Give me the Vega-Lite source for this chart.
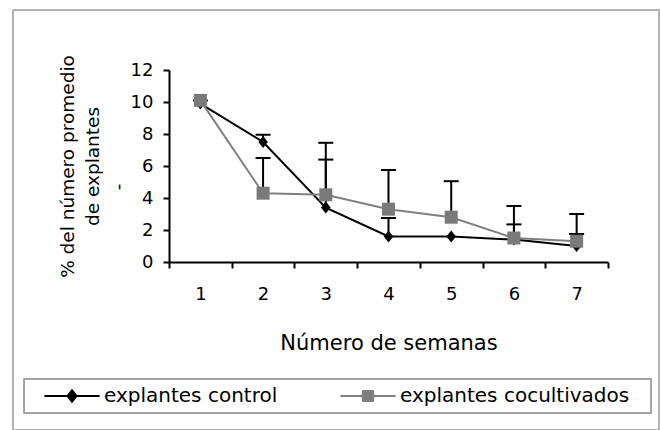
{
  "$schema": "https://vega.github.io/schema/vega-lite/v6.json",
  "width": 646,
  "height": 420,
  "autosize": {"type": "none"},
  "padding": {"left": 13, "top": 10, "right": 1, "bottom": 0},
  "background": "white",
  "config": {
    "font": "DejaVu Sans",
    "view": {"stroke": "#999999", "strokeWidth": 1.5},
    "axis": {"grid": false, "domainColor": "#000000", "domainWidth": 2, "tickColor": "#000000", "tickWidth": 2, "labelColor": "#000000", "titleColor": "#000000", "labelFont": "DejaVu Sans", "titleFont": "DejaVu Sans", "titleFontWeight": "normal", "labelFlush": false}
  },
  "data": {
    "values": [
      {"semana": 1, "serie": "explantes control", "media": 9.9, "superior": 10.1},
      {"semana": 2, "serie": "explantes control", "media": 7.5, "superior": 7.95},
      {"semana": 3, "serie": "explantes control", "media": 3.4, "superior": 6.4},
      {"semana": 4, "serie": "explantes control", "media": 1.6, "superior": 2.75},
      {"semana": 5, "serie": "explantes control", "media": 1.6, "superior": null},
      {"semana": 6, "serie": "explantes control", "media": 1.4, "superior": 2.35},
      {"semana": 7, "serie": "explantes control", "media": 1.0, "superior": 1.75},
      {"semana": 1, "serie": "explantes cocultivados", "media": 10.1, "superior": null},
      {"semana": 2, "serie": "explantes cocultivados", "media": 4.3, "superior": 6.5},
      {"semana": 3, "serie": "explantes cocultivados", "media": 4.2, "superior": 7.45},
      {"semana": 4, "serie": "explantes cocultivados", "media": 3.3, "superior": 5.75},
      {"semana": 5, "serie": "explantes cocultivados", "media": 2.8, "superior": 5.05},
      {"semana": 6, "serie": "explantes cocultivados", "media": 1.5, "superior": 3.5},
      {"semana": 7, "serie": "explantes cocultivados", "media": 1.3, "superior": 3.0}
    ]
  },
  "encoding": {
    "x": {
      "field": "semana", "type": "quantitative",
      "scale": {"domain": [0.5, 7.5], "range": [156, 595], "nice": false, "zero": false},
      "axis": {
        "title": "Número de semanas",
        "values": [0.5, 1, 1.5, 2, 2.5, 3, 3.5, 4, 4.5, 5, 5.5, 6, 6.5, 7, 7.5],
        "offset": -168,
        "tickSize": 6,
        "tickOpacity": {"condition": {"test": "datum.value % 1 === 0", "value": 0}, "value": 1},
        "labelExpr": "datum.value % 1 === 0 ? format(datum.value, 'd') : ''",
        "labelFontSize": 18,
        "labelPadding": 17,
        "labelOverlap": false,
        "titleFontSize": 21,
        "titlePadding": 29
      }
    },
    "y": {
      "field": "media", "type": "quantitative",
      "scale": {"domain": [0, 12], "range": [252, 60], "nice": false, "zero": false},
      "axis": {
        "title": ["% del número promedio", "de explantes", "-\u2800\u2800\u2800"],
        "values": [0, 2, 4, 6, 8, 10, 12],
        "offset": -156,
        "tickSize": 6,
        "labelPadding": 10,
        "labelFontSize": 18,
        "titleFontSize": 18.5,
        "titleLineHeight": 25,
        "titlePadding": 3
      }
    }
  },
  "layer": [
    {
      "transform": [{"filter": "datum.superior != null"}],
      "mark": {"type": "rule", "color": "#000000", "strokeWidth": 2},
      "encoding": {"y2": {"field": "superior"}}
    },
    {
      "transform": [{"filter": "datum.superior != null"}],
      "mark": {"type": "tick", "orient": "horizontal", "color": "#000000", "size": 15, "thickness": 2, "opacity": 1},
      "encoding": {
        "y": {
          "field": "superior", "type": "quantitative",
          "scale": {"domain": [0, 12], "range": [252, 60], "nice": false, "zero": false},
          "axis": {
            "title": ["% del número promedio", "de explantes", "-\u2800\u2800\u2800"],
            "values": [0, 2, 4, 6, 8, 10, 12],
            "offset": -156,
            "tickSize": 6,
            "labelPadding": 10,
            "labelFontSize": 18,
            "titleFontSize": 18.5,
            "titleLineHeight": 25,
            "titlePadding": 3
          }
        }
      }
    },
    {
      "mark": {"type": "line", "strokeWidth": 2},
      "encoding": {
        "color": {
          "field": "serie", "type": "nominal",
          "scale": {"domain": ["explantes control", "explantes cocultivados"], "range": ["#000000", "#808080"]},
          "legend": {
            "title": null,
            "orient": "none",
            "legendX": 11,
            "legendY": 369,
            "direction": "horizontal",
            "columns": 2,
            "strokeColor": "#888888",
            "padding": 7,
            "labelFontSize": 20,
            "labelFont": "DejaVu Sans",
            "labelColor": "#000000",
            "labelLimit": 400,
            "labelExpr": "datum.label === 'explantes cocultivados' ? datum.label + '\u2800' : datum.label",
            "symbolSize": 144,
            "symbolOffset": 31,
            "labelOffset": 22,
            "columnPadding": 49,
            "encode": {
              "legend": {"update": {"strokeWidth": {"value": 1.5}}},
              "symbols": {
                "update": {
                  "shape": {"signal": "datum.value === 'explantes control' ? 'M-4.6,0H4.6M-0.75,0L0,-0.95L0.75,0L0,0.95Z' : 'M-4.6,0H4.6M-0.85,-0.85H0.85V0.85H-0.85Z'"},
                  "fill": {"signal": "datum.value === 'explantes control' ? '#000000' : '#7a7a7a'"},
                  "stroke": {"signal": "datum.value === 'explantes control' ? '#000000' : '#808080'"},
                  "strokeWidth": {"value": 2},
                  "opacity": {"value": 1}
                }
              }
            }
          }
        }
      }
    },
    {
      "transform": [{"filter": "datum.serie === 'explantes control'"}],
      "mark": {"type": "point", "shape": "M-0.8,0L0,-1L0.8,0L0,1Z", "filled": true, "color": "#000000", "size": 144, "opacity": 1}
    },
    {
      "transform": [{"filter": "datum.serie === 'explantes cocultivados'"}],
      "mark": {"type": "point", "shape": "square", "filled": true, "color": "#7a7a7a", "size": 169, "opacity": 1}
    }
  ]
}
